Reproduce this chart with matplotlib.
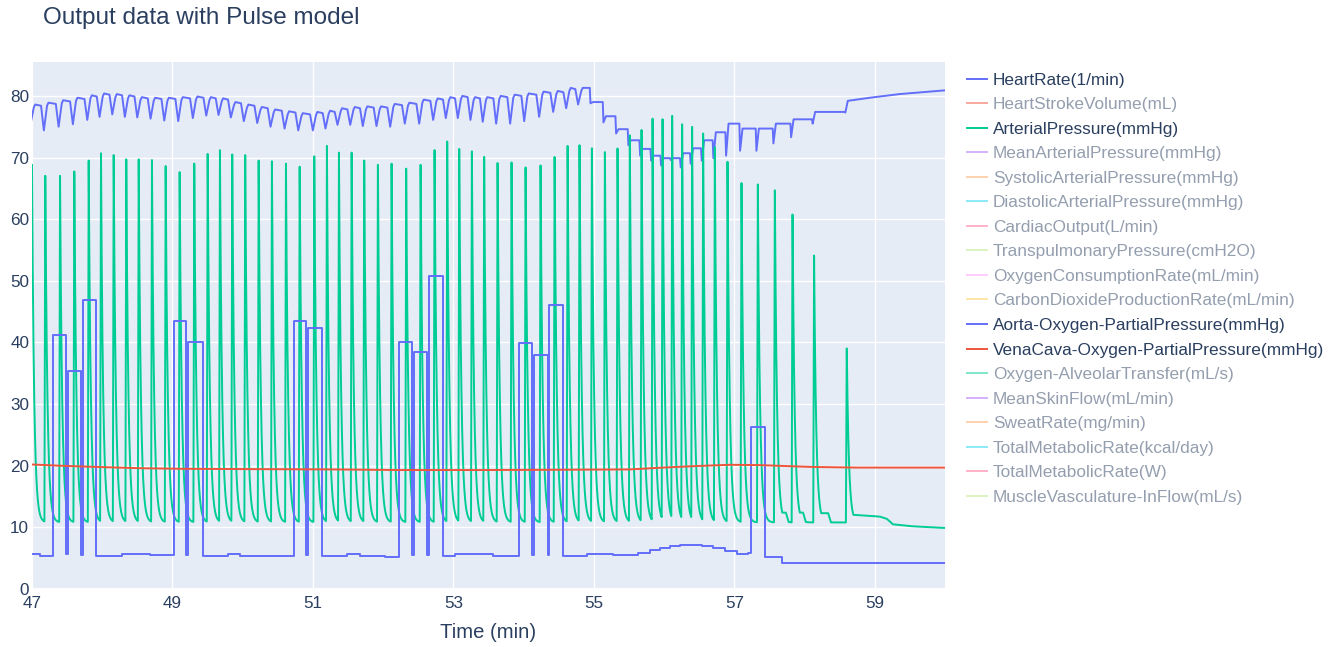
import numpy as np
import matplotlib
matplotlib.use("Agg")
import matplotlib.pyplot as plt
from matplotlib.lines import Line2D

# ---------------- data (time in minutes) ----------------
beat_time = [
    47.000, 47.189, 47.399, 47.602, 47.807, 47.982, 48.163, 48.342, 48.519, 48.708,
    48.903, 49.102, 49.310, 49.501, 49.676, 49.851, 50.036, 50.227, 50.416, 50.616,
    50.811, 51.019, 51.199, 51.370, 51.551, 51.730, 51.925, 52.120, 52.328, 52.533,
    52.732, 52.912, 53.083, 53.263, 53.438, 53.629, 53.828, 54.028, 54.241, 54.441,
    54.626, 54.796, 54.972, 55.157, 55.337, 55.512, 55.679, 55.836, 55.978, 56.115,
    56.257, 56.399, 56.556, 56.722, 56.903, 57.102, 57.335, 57.577, 57.829, 58.136,
    58.601,
]
pressure_peak = [
    68.8, 68.0, 67.4, 68.5, 69.9, 71.5, 70.8, 70.5, 70.1, 69.6,
    69.0, 68.4, 69.8, 71.6, 71.2, 70.9, 70.4, 69.9, 69.4, 69.0,
    68.9, 70.6, 72.3, 71.6, 71.2, 70.3, 69.8, 69.0, 68.2, 69.8,
    71.2, 72.6, 71.8, 71.4, 70.9, 70.1, 69.2, 68.4, 69.7, 71.1,
    72.7, 72.0, 71.5, 71.9, 72.5, 73.6, 74.9, 76.3, 77.1, 77.2,
    76.5, 75.4, 73.9, 72.5, 69.7, 66.6, 66.0, 65.6, 61.6, 54.1,
    39.5,
]
pressure_trough = 10.8
shoulder_beat = [56, 57, 58, 59]
shoulder_level = [11.8, 12.4, 12.4, 12.3]
shoulder_length = [0.12, 0.157, 0.15, 0.2]
pressure_tail_time = [58.601, 58.744, 59.071, 59.171, 59.256, 59.498, 60.0]
pressure_tail_value = [12.1, 12.0, 11.75, 11.4, 10.5, 10.2, 9.9]

# heart rate: lowest value at each beat and the level reached after it
hr_dip = [
    75.5, 74.4, 75.0, 75.4, 76.1, 76.6, 77.0, 76.6, 76.5, 76.3,
    76.0, 75.9, 76.4, 76.8, 76.9, 76.5, 75.9, 75.6, 75.0, 74.7,
    74.4, 74.4, 74.7, 75.3, 75.3, 75.1, 75.1, 75.0, 75.5, 75.5,
    76.1, 76.4, 76.4, 76.1, 75.8, 75.5, 75.5, 75.9, 76.6, 77.4,
    78.0, 78.6, 78.8, 75.7, 73.9, 72.0, 70.3, 69.5, 68.7, 69.6,
    68.4, 69.0, 69.5, 69.9, 70.3, 71.1, 71.1, 72.3, 73.3, 75.5,
    77.3,
]
hr_top = [
    78.6, 78.9, 79.3, 79.7, 80.1, 80.4, 80.3, 80.1, 79.8, 79.7,
    79.7, 79.8, 79.9, 79.8, 79.6, 79.0, 78.6, 78.2, 77.8, 77.5,
    77.2, 77.4, 77.6, 78.0, 78.2, 78.3, 78.3, 78.7, 78.9, 79.4,
    79.6, 79.8, 80.0, 79.8, 79.8, 80.0, 80.2, 80.4, 80.7, 80.8,
    81.3, 81.3, 79.0, 76.7, 74.6, 72.8, 71.4, 70.3, 69.9, 69.9,
    70.7, 71.5, 72.8, 74.1, 75.5, 74.7, 74.7, 75.5, 76.2, 77.4,
    79.2,
]
hr_tail_time = [58.929, 59.356, 60.0]
hr_tail_value = [79.7, 80.3, 80.9]

aorta_time = [
    47.000, 47.114, 47.295, 47.484, 47.512, 47.698, 47.722, 47.911, 48.082, 48.277,
    48.466, 48.680, 49.021, 49.192, 49.221, 49.430, 49.605, 49.790, 49.961, 50.345,
    50.730, 50.900, 50.933, 51.132, 51.313, 51.484, 51.669, 51.854, 52.025, 52.228,
    52.414, 52.442, 52.627, 52.647, 52.846, 53.021, 53.562, 53.762, 53.937, 54.122,
    54.150, 54.341, 54.359, 54.554, 54.730, 54.900, 55.270, 55.630, 55.797, 55.940,
    56.082, 56.225, 56.538, 56.694, 56.865, 57.036, 57.192, 57.231, 57.434, 57.676,
    60.000,
]
aorta_value = [
    5.6, 5.4, 41.2, 5.6, 35.3, 5.5, 46.9, 5.3, 5.4, 5.7,
    5.6, 5.5, 43.5, 5.5, 40.0, 5.3, 5.4, 5.7, 5.4, 5.3,
    43.5, 5.5, 42.4, 5.3, 5.4, 5.7, 5.4, 5.3, 5.2, 40.0,
    5.5, 38.5, 5.5, 50.8, 5.3, 5.7, 5.4, 5.3, 39.9, 5.5,
    37.9, 5.5, 46.1, 5.3, 5.4, 5.7, 5.5, 5.9, 6.3, 6.7,
    6.9, 7.1, 6.9, 6.6, 6.2, 5.7, 5.9, 26.3, 5.2, 4.2,
    4.2,
]

vena_time = [47.0, 47.399, 47.925, 48.537, 49.149, 50.103, 51.285, 52.238, 53.377,
             54.516, 55.512, 55.982, 56.466, 56.936, 57.363, 57.719, 58.117, 58.744, 60.0]
vena_value = [20.2, 20.0, 19.8, 19.6, 19.5, 19.45, 19.4, 19.3, 19.3,
              19.35, 19.4, 19.7, 19.95, 20.15, 20.1, 19.95, 19.8, 19.7, 19.7]

legend_labels = [
    "HeartRate(1/min)", "HeartStrokeVolume(mL)", "ArterialPressure(mmHg)",
    "MeanArterialPressure(mmHg)", "SystolicArterialPressure(mmHg)",
    "DiastolicArterialPressure(mmHg)", "CardiacOutput(L/min)",
    "TranspulmonaryPressure(cmH2O)", "OxygenConsumptionRate(mL/min)",
    "CarbonDioxideProductionRate(mL/min)", "Aorta-Oxygen-PartialPressure(mmHg)",
    "VenaCava-Oxygen-PartialPressure(mmHg)", "Oxygen-AlveolarTransfer(mL/s)",
    "MeanSkinFlow(mL/min)", "SweatRate(mg/min)", "TotalMetabolicRate(kcal/day)",
    "TotalMetabolicRate(W)", "MuscleVasculature-InFlow(mL/s)",
]
shown_series = {0, 2, 10, 11}

colorway = ["#636efa", "#EF553B", "#00cc96", "#ab63fa", "#FFA15A",
            "#19d3f3", "#FF6692", "#B6E880", "#FF97FF", "#FECB52"]

# ---------------- build traces ----------------
bt = np.array(beat_time)
pk = np.array(pressure_peak)

t = np.arange(47.0, 60.0005, 0.0008)
tau = 0.03
rise = 0.012

# resting level between beats (with the shoulders of the slow beats and the tail)
floor = np.full_like(t, pressure_trough)
for b, lvl, ln in zip(shoulder_beat, shoulder_level, shoulder_length):
    t0 = bt[b]
    m = (t >= t0) & (t < t0 + ln)
    floor[m] = np.maximum(floor[m], lvl)
    r = (t >= t0 + ln) & (t < t0 + ln + 0.04)
    frac = (t[r] - (t0 + ln)) / 0.04
    floor[r] = np.maximum(floor[r], lvl + (pressure_trough - lvl) * frac)
m = t >= bt[-1]
floor[m] = np.interp(t[m], pressure_tail_time, pressure_tail_value)

# each beat: steep upstroke to its peak, then a fast decay back to the trough
pulse = np.zeros_like(t)
for ti, p in zip(bt, pk):
    dt = t - ti
    amp = p - pressure_trough
    dec = (dt >= 0) & (dt < 0.25)
    pulse[dec] = np.maximum(pulse[dec], pressure_trough + amp * np.exp(-dt[dec] / tau))
    up = (dt < 0) & (dt >= -rise)
    pulse[up] = np.maximum(pulse[up], pressure_trough + amp * (1 + dt[up] / rise))
pressure = np.maximum(floor, pulse)

hr_t, hr_v = [], []
for i, ti in enumerate(bt):
    fall = 0.06 if i < 42 else 0.03
    if i > 0:
        hr_t.append(ti - fall)
        hr_v.append(hr_top[i - 1] - (0.2 if i < 42 else 0.0))
    hr_t.append(ti - 0.02)
    hr_v.append(hr_dip[i])
    if i < 42:
        hr_t.append(ti + 0.025)
        hr_v.append(hr_top[i] - 0.5)
        hr_t.append(ti + 0.045)
        hr_v.append(hr_top[i])
    else:
        hr_t.append(ti + 0.015)
        hr_v.append(hr_top[i])
hr_t += hr_tail_time
hr_v += hr_tail_value

# ---------------- figure ----------------
W, H = 1329, 647
text_color = "#2a3f5f"
plt.rcParams["font.family"] = ["Liberation Sans", "DejaVu Sans"]

fig = plt.figure(figsize=(W / 100, H / 100), dpi=100, facecolor="white")
ax = fig.add_axes([32 / W, 1 - 589 / H, (945 - 32) / W, (589 - 62) / H])
ax.set_facecolor("#E5ECF6")
for s in ax.spines.values():
    s.set_visible(False)

ax.plot(hr_t, hr_v, color=colorway[0], lw=1.4, zorder=3)
ax.plot(t, pressure, color=colorway[2], lw=1.4, zorder=4)
ax.plot(aorta_time, aorta_value, color=colorway[0], lw=1.4, drawstyle="steps-post", zorder=5)
ax.plot(vena_time, vena_value, color=colorway[1], lw=1.4, zorder=6)

ax.set_xlim(47, 60)
ax.set_ylim(0, 85.5)
ax.set_xticks([47, 49, 51, 53, 55, 57, 59])
ax.set_yticks(range(0, 81, 10))
ax.grid(True, color="white", lw=1.0)
ax.set_axisbelow(True)
ax.axhline(0, color="white", lw=2, zorder=1)
ax.tick_params(length=0, labelsize=12.3, labelcolor=text_color)
ax.tick_params(axis="x", pad=5)
ax.tick_params(axis="y", pad=2)
ax.set_xlabel("Time (min)", fontsize=14.6, color=text_color, labelpad=9)

fig.text(43 / W, 1 - 18 / H, "Output data with Pulse model", fontsize=17.5,
         color=text_color, ha="left", va="center")

for i, label in enumerate(legend_labels):
    y = 1 - (78.5 + 24.55 * i) / H
    a = 1.0 if i in shown_series else 0.5
    c = colorway[i % len(colorway)]
    fig.add_artist(Line2D([967 / W, 987 / W], [y, y], color=c, lw=1.4, alpha=a))
    fig.text(993 / W, y, label, fontsize=12.4, color=text_color, alpha=a,
             ha="left", va="center_baseline")

fig.savefig("out.png", dpi=100, facecolor="white")
